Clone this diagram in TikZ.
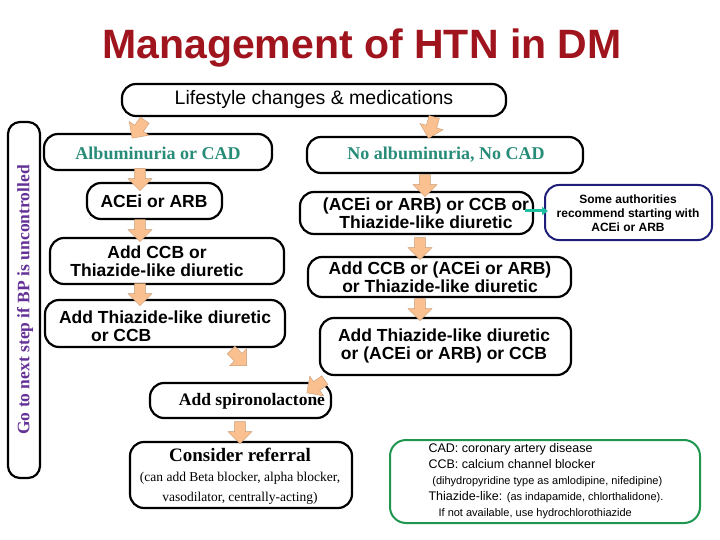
\documentclass[tikz,border=0pt]{standalone}
\usepackage{fontspec}
\setmainfont{Liberation Serif}
\setsansfont{Liberation Sans}
\usetikzlibrary{shapes.arrows,arrows.meta}
\definecolor{titlered}{RGB}{160,20,30}
\definecolor{tealtxt}{RGB}{40,140,120}
\definecolor{tealarrow}{RGB}{30,190,160}
\definecolor{peach}{RGB}{250,192,144}
\definecolor{navyline}{RGB}{30,30,120}
\definecolor{greenline}{RGB}{30,150,80}
\definecolor{purpletxt}{RGB}{100,50,150}
\tikzset{
 stepbox/.style={draw, line width=2.2pt, rounded corners=14pt},
 boxtext/.style={align=center, font=\sffamily\bfseries\fontsize{17.5}{18.5}\selectfont},
 headtext/.style={font=\rmfamily\bfseries\fontsize{18}{20}\selectfont, text=tealtxt},
 blockarr/.style={single arrow, draw=peach!80!black, fill=peach, line width=0.4pt, minimum height=22pt, minimum width=24pt, single arrow head extend=4pt, inner sep=3pt}
}
\begin{document}
\begin{tikzpicture}[x=1pt,y=-1pt]
\useasboundingbox (0,0) rectangle (720,540);

%Titel
\node[font=\sffamily\bfseries\fontsize{41}{44}\selectfont, text=titlered] (title) at (362,48) {Management of HTN in DM};

%Rahmen
\draw[stepbox] (122,84) rectangle (506,116);
\node[font=\sffamily\fontsize{19.5}{21}\selectfont] (life) at (314,99) {Lifestyle changes \& medications};
\draw[line width=2.2pt, rounded corners=12pt] (8,122) rectangle (40,478);
\node[rotate=90, font=\rmfamily\bfseries\fontsize{17.5}{19}\selectfont, text=purpletxt] (goto) at (25,300) {Go to next step if BP is uncontrolled};

%Links
\draw[stepbox] (44,134) rectangle (272,170);
\node[headtext] (alb) at (158,153) {Albuminuria or CAD};
\draw[stepbox] (87,183) rectangle (222,219);
\node[boxtext] (acel) at (154,201) {ACEi or ARB};
\draw[stepbox] (50,238) rectangle (284,284);
\node[boxtext] (ccbl) at (157,261) {Add CCB or\\Thiazide-like diuretic};
\draw[stepbox] (45,300) rectangle (285,347);
\node[boxtext] (thil) at (165,326) {Add Thiazide-like diuretic\\\hspace*{-5em}or CCB};

%Rechts
\draw[stepbox] (307,137) rectangle (583,173);
\node[headtext] (noalb) at (446,155) {No albuminuria, No CAD};
\draw[stepbox] (300,192) rectangle (533,234);
\node[boxtext] (acer) at (426,213) {(ACEi or ARB) or CCB or\\Thiazide-like diuretic};
\draw[line width=2pt, navyline, rounded corners=14pt] (545,185) rectangle (712,240);
\node (some) at (628,213) [align=center, font=\sffamily\bfseries\fontsize{12}{14}\selectfont] {Some authorities\\recommend starting with\\ACEi or ARB};
\draw[stepbox] (308,257) rectangle (571,297);
\node[boxtext] (ccbr) at (440,277) {Add CCB or (ACEi or ARB)\\or Thiazide-like diuretic};
\draw[stepbox] (320,318) rectangle (571,375);
\node[boxtext] (thir) at (444,346) {Add Thiazide-like diuretic\\or (ACEi or ARB) or CCB};

%Unten
\draw[stepbox] (150,383) rectangle (331,418);
\node (spiro) at (252,401) [font=\rmfamily\bfseries\fontsize{17.5}{19}\selectfont] {Add spironolactone};
\draw[stepbox] (130,442) rectangle (352,508);
\node (refer) at (240,476) [align=center, font=\rmfamily\fontsize{13.5}{20}\selectfont] {{\bfseries\fontsize{19}{20}\selectfont Consider referral}\\(can add Beta blocker, alpha blocker,\\vasodilator, centrally-acting)};
\draw[line width=2pt, greenline, rounded corners=16pt] (390,440) rectangle (700,523);
\node (legend) at (546,481) [align=left, font=\sffamily\fontsize{12.5}{16}\selectfont] {CAD: coronary artery disease\\CCB: calcium channel blocker\\\hspace*{0.3em}{\fontsize{11}{16}\selectfont(dihydropyridine type as amlodipine, nifedipine)}\\Thiazide-like: {\fontsize{11}{16}\selectfont(as indapamide, chlorthalidone).}\\\hspace*{0.8em}{\fontsize{11}{16}\selectfont If not available, use hydrochlorothiazide}};

%Pfeile
\node[blockarr, rotate=-125] (a1) at (140,127) {};
\node[blockarr, rotate=-105] (a2) at (432,125) {};
\node[blockarr, rotate=-90] (a3) at (140,177) {};
\node[blockarr, rotate=-90] (a4) at (140,228) {};
\node[blockarr, rotate=-90] (a5) at (140,292) {};
\node[blockarr, rotate=-90] (a6) at (425,183) {};
\node[blockarr, rotate=-90] (a7) at (420,246) {};
\node[blockarr, rotate=-90] (a8) at (420,307) {};
\node[blockarr, rotate=-45] (a9) at (237,356) {};
\node[blockarr, rotate=-145] (a10) at (318,385) {};
\node[blockarr, rotate=-90] (a11) at (240,430) {};
\draw[-{Triangle[length=6pt,width=8pt]}, line width=3pt, tealarrow] (525,211) -- (548,211);
\end{tikzpicture}
\end{document}
